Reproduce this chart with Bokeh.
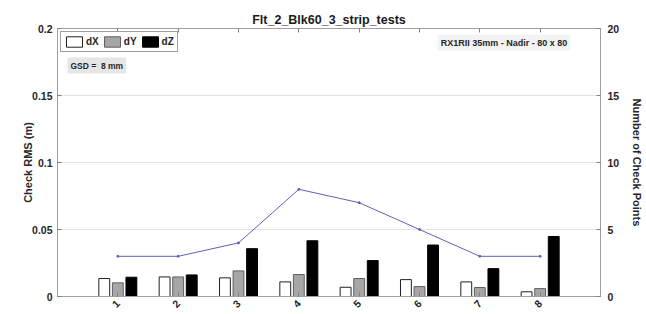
from bokeh.plotting import figure
from bokeh.models import (Range1d, LinearAxis, FixedTicker, Legend, LegendItem, Label, ColumnDataSource)
from bokeh.transform import dodge
from bokeh.embed import file_html
from bokeh.resources import INLINE
import math

# ---- data ----
categories = [1, 2, 3, 4, 5, 6, 7, 8]
dX = [0.0134, 0.0146, 0.0139, 0.0109, 0.0069, 0.0126, 0.0109, 0.0035]
dY = [0.0102, 0.0146, 0.0191, 0.0164, 0.0134, 0.0074, 0.0067, 0.0059]
dZ = [0.0144, 0.0161, 0.0357, 0.0416, 0.0268, 0.0384, 0.0208, 0.0448]
n_points = [3, 3, 4, 8, 7, 5, 3, 3]
y_ticks = [0, 0.05, 0.1, 0.15, 0.2]
y_tick_labels = ["0", "0.05", "0.1", "0.15", "0.2"]
n_ticks = [0, 5, 10, 15, 20]
title_text = "Flt_2_Blk60_3_strip_tests"

FONT = "Liberation Sans"
TXT = "#262626"
AX = "#a0a0a0"

p = figure(width=646, height=314, output_backend="svg", toolbar_location=None,
           x_range=Range1d(0, 9), y_range=Range1d(0, 0.2),
           min_border_left=57, min_border_right=44, min_border_top=28, min_border_bottom=17,
           x_axis_location=None, y_axis_location=None)
p.extra_y_ranges = {"n": Range1d(0, 20)}
p.outline_line_color = AX
p.background_fill_color = "white"
p.border_fill_color = "white"

p.title.text = title_text
p.title.align = "center"
p.title.text_font = FONT
p.title.text_font_style = "bold"
p.title.text_font_size = "12.5px"
p.title.text_color = "#1a1a1a"
p.title.standoff = 3

src = ColumnDataSource(dict(cat=categories, dX=dX, dY=dY, dZ=dZ, n=n_points))
bw = 0.18
off = 0.225
rX = p.vbar(x=dodge("cat", -off), top="dX", width=bw, source=src, fill_color="white", line_color="#202020", line_width=1)
rY = p.vbar(x=dodge("cat", 0), top="dY", width=bw, source=src, fill_color="#a6a6a6", line_color="#606060", line_width=1)
rZ = p.vbar(x=dodge("cat", off), top="dZ", width=bw, source=src, fill_color="black", line_color="black", line_width=1)

p.line(x="cat", y="n", source=src, y_range_name="n", line_color="#6060b8", line_width=1)
p.scatter(x="cat", y="n", source=src, y_range_name="n", size=2, color="#6060b8")

# grid
p.xgrid.visible = False
p.ygrid.ticker = FixedTicker(ticks=y_ticks)
p.ygrid.grid_line_color = "#e3e3e3"

def style(ax):
    ax.axis_line_color = AX
    ax.major_tick_line_color = "#808080"
    ax.major_tick_in = 4
    ax.major_tick_out = 0
    ax.minor_tick_in = 0
    ax.minor_tick_out = 0
    ax.major_label_text_font = FONT
    ax.major_label_text_font_style = "bold"
    ax.major_label_text_font_size = "10.5px"
    ax.major_label_text_color = TXT
    ax.axis_label_text_font = FONT
    ax.axis_label_text_font_style = "bold"
    ax.axis_label_text_font_size = "11px"
    ax.axis_label_text_color = TXT

xb = LinearAxis(ticker=FixedTicker(ticks=categories))
style(xb)
xb.major_label_orientation = math.pi / 4
xb.major_label_standoff = 5
p.add_layout(xb, "below")

xt = LinearAxis(ticker=FixedTicker(ticks=categories))
style(xt)
xt.major_label_overrides = {c: "" for c in categories}
xt.major_label_standoff = 0
p.add_layout(xt, "above")

yl = LinearAxis(ticker=FixedTicker(ticks=y_ticks), axis_label="Check RMS (m)")
style(yl)
yl.major_label_overrides = {t: s for t, s in zip(y_ticks, y_tick_labels)}
yl.major_label_standoff = 5
yl.axis_label_standoff = -5
p.add_layout(yl, "left")

yr = LinearAxis(ticker=FixedTicker(ticks=n_ticks), y_range_name="n", axis_label="Number of Check Points")
style(yr)
yr.major_label_standoff = 7
yr.axis_label_standoff = 9
p.add_layout(yr, "right")

legend = Legend(items=[LegendItem(label="dX", renderers=[rX]),
                       LegendItem(label="dY", renderers=[rY]),
                       LegendItem(label="dZ", renderers=[rZ])],
                orientation="horizontal", location="top_left",
                margin=3, padding=3, spacing=3, label_standoff=2,
                glyph_width=20, glyph_height=13, label_width=12,
                label_text_font=FONT, label_text_font_style="bold", label_text_font_size="10px",
                label_text_color=TXT, label_height=13,
                border_line_color="#404040", border_line_width=1, background_fill_color="white",
                background_fill_alpha=1)
p.add_layout(legend)

p.add_layout(Label(x=0, y=0.2, x_offset=10, y_offset=-45, text="GSD = \u00a08 mm",
                   text_font=FONT, text_font_style="bold", text_font_size="8.5px", text_color=TXT,
                   background_fill_color="#e6e6e6", padding=3))
p.add_layout(Label(x=7.4, y=0.2, y_offset=-22, text="RX1RII 35mm - Nadir - 80 x 80",
                   text_align="center", text_font=FONT, text_font_style="bold", text_font_size="9px",
                   text_color=TXT, background_fill_color="#f3f3f3", padding=3))

open("out.html", "w").write(file_html(p, INLINE))
